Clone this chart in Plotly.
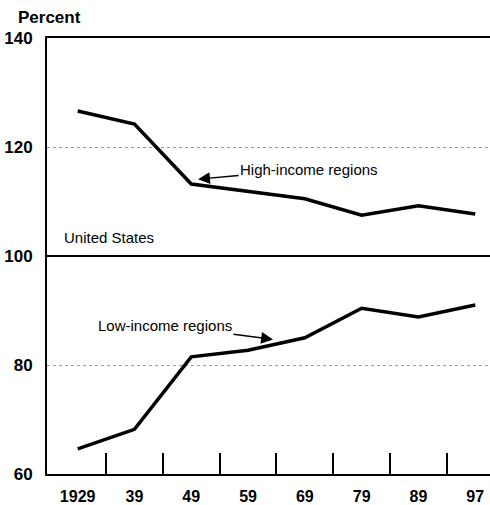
import plotly.graph_objects as go

# Per capita income relative to the United States (US = 100)
years = ["1929", "39", "49", "59", "69", "79", "89", "97"]
high_income = [126.6, 124.2, 113.2, 111.9, 110.5, 107.5, 109.2, 107.7]
low_income = [64.6, 68.2, 81.5, 82.7, 85.0, 90.4, 88.8, 91.0]
us_level = 100
y_ticks = [60, 80, 100, 120, 140]

TEXT_FONT = "Liberation Sans, Arial, Helvetica, sans-serif"

pos = list(range(len(years)))
boundaries = [p + 0.5 for p in pos[:-1]]
x_range = [-0.54, 7.26]

fig = go.Figure()
fig.add_trace(
    go.Scatter(x=pos, y=high_income, mode="lines", line=dict(color="black", width=3.5), showlegend=False)
)
fig.add_trace(
    go.Scatter(x=pos, y=low_income, mode="lines", line=dict(color="black", width=3.5), showlegend=False)
)
# empty trace so the tick-only overlay axis gets drawn
fig.add_trace(go.Scatter(x=[], y=[], xaxis="x2", showlegend=False, hoverinfo="skip"))

fig.add_shape(
    type="line", xref="paper", x0=0, x1=1, yref="y", y0=us_level, y1=us_level,
    line=dict(color="black", width=2),
)

fig.update_layout(
    width=490,
    height=505,
    margin=dict(l=47, r=0, t=38, b=31),
    paper_bgcolor="white",
    plot_bgcolor="white",
    font=dict(family=TEXT_FONT, color="black", size=15),
    xaxis=dict(
        range=x_range,
        tickvals=pos,
        ticktext=years,
        ticks="",
        showgrid=False,
        zeroline=False,
        showline=True,
        linecolor="black",
        linewidth=2,
        mirror=True,
        automargin=False,
        ticklabelstandoff=7,
        tickfont=dict(size=16, weight="bold"),
    ),
    xaxis2=dict(
        overlaying="x",
        anchor="y",
        side="bottom",
        range=x_range,
        tickvals=boundaries,
        ticks="inside",
        ticklen=21,
        tickwidth=1.5,
        tickcolor="black",
        showticklabels=False,
        showgrid=False,
        zeroline=False,
        showline=False,
        automargin=False,
    ),
    yaxis=dict(
        range=[60, 140],
        tickvals=y_ticks,
        ticks="",
        showgrid=True,
        gridcolor="#999",
        griddash="dot",
        gridwidth=1,
        zeroline=False,
        showline=True,
        linecolor="black",
        linewidth=2,
        automargin=False,
        ticklabelstandoff=9,
        tickfont=dict(size=17, weight="bold"),
    ),
)

fig.add_annotation(
    text="<b>Percent</b>", xref="paper", yref="paper", x=-0.07, y=1.046,
    xanchor="left", yanchor="middle", showarrow=False, font=dict(size=17),
)
fig.add_annotation(
    text="United States", x=-0.27, y=103.4, xanchor="left", yanchor="middle", showarrow=False,
)
fig.add_annotation(
    text="High-income regions", x=2.12, y=114.1, ax=111, ay=-10,
    showarrow=True, arrowhead=2, arrowsize=1.7, arrowwidth=1.4, arrowcolor="black",
)
fig.add_annotation(
    text="Low-income regions", x=3.44, y=84.7, ax=-108, ay=-14,
    showarrow=True, arrowhead=2, arrowsize=1.7, arrowwidth=1.4, arrowcolor="black",
)

# the page body has a default 8px margin; drop it so the figure fills the window
fig.write_html(
    "out.html",
    config={"displayModeBar": False},
    post_script="document.body.style.margin = '0';",
)
